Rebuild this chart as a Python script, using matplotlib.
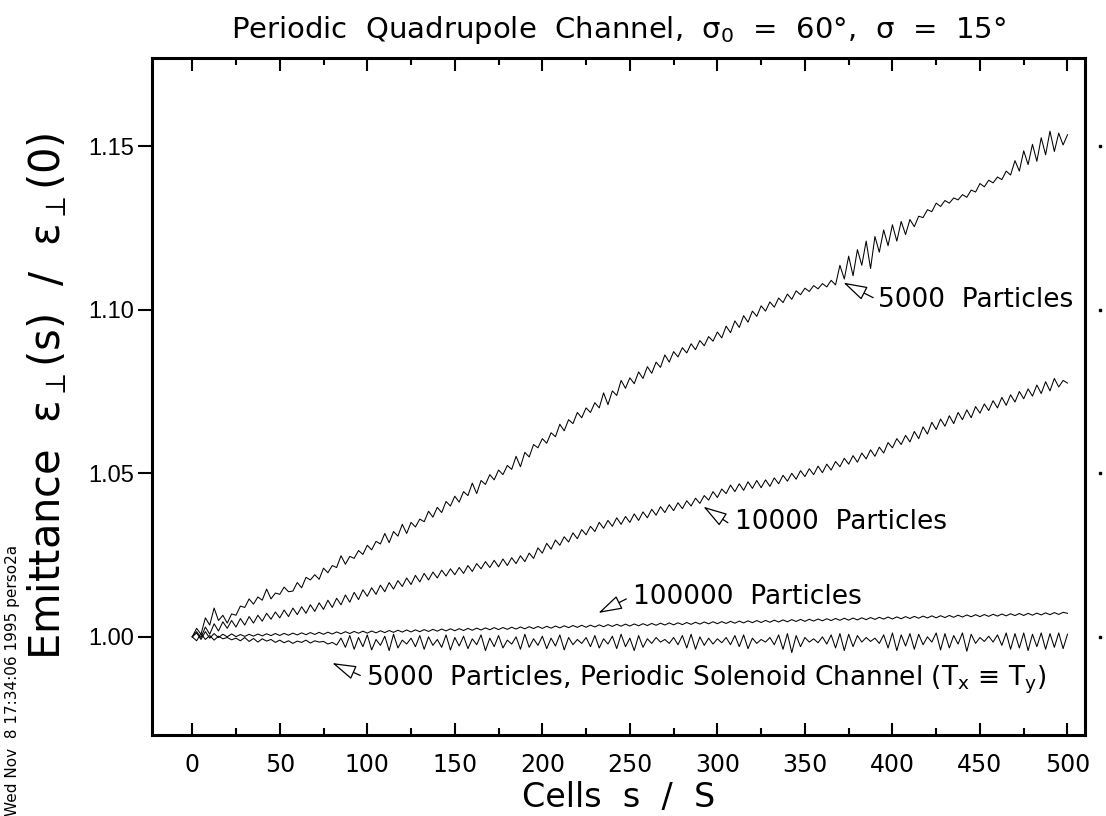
import numpy as np
import matplotlib
matplotlib.use("Agg")
import matplotlib.pyplot as plt
from matplotlib.ticker import MultipleLocator, FormatStrFormatter

# cells sampled every 2.5 cells, 0 .. 500
cells = np.linspace(0, 500, 201)

emit_5000 = [
    1.0000, 1.0026, 1.0008, 1.0058, 1.0036, 1.0088, 1.0050, 1.0066, 1.0042, 1.0070,
    1.0066, 1.0094, 1.0090, 1.0116, 1.0100, 1.0122, 1.0112, 1.0146, 1.0116, 1.0134,
    1.0130, 1.0152, 1.0138, 1.0140, 1.0166, 1.0150, 1.0182, 1.0174, 1.0190, 1.0176,
    1.0210, 1.0196, 1.0218, 1.0212, 1.0248, 1.0222, 1.0246, 1.0240, 1.0264, 1.0252,
    1.0280, 1.0266, 1.0292, 1.0284, 1.0316, 1.0288, 1.0322, 1.0308, 1.0344, 1.0316,
    1.0350, 1.0336, 1.0360, 1.0352, 1.0384, 1.0366, 1.0396, 1.0380, 1.0414, 1.0400,
    1.0430, 1.0412, 1.0444, 1.0432, 1.0470, 1.0438, 1.0478, 1.0466, 1.0496, 1.0480,
    1.0510, 1.0496, 1.0524, 1.0512, 1.0552, 1.0520, 1.0564, 1.0550, 1.0588, 1.0578,
    1.0606, 1.0592, 1.0624, 1.0612, 1.0650, 1.0630, 1.0664, 1.0652, 1.0686, 1.0670,
    1.0700, 1.0686, 1.0716, 1.0700, 1.0746, 1.0710, 1.0752, 1.0738, 1.0784, 1.0760,
    1.0792, 1.0774, 1.0810, 1.0790, 1.0826, 1.0806, 1.0840, 1.0824, 1.0862, 1.0840,
    1.0872, 1.0856, 1.0884, 1.0868, 1.0896, 1.0878, 1.0906, 1.0890, 1.0918, 1.0904,
    1.0932, 1.0914, 1.0950, 1.0930, 1.0966, 1.0946, 1.0982, 1.0962, 1.0996, 1.0980,
    1.1012, 1.0996, 1.1024, 1.1008, 1.1036, 1.1022, 1.1048, 1.1032, 1.1058, 1.1046,
    1.1066, 1.1056, 1.1074, 1.1064, 1.1080, 1.1070, 1.1090, 1.1076, 1.1136, 1.1094,
    1.1164, 1.1104, 1.1184, 1.1136, 1.1210, 1.1126, 1.1224, 1.1176, 1.1244, 1.1196,
    1.1260, 1.1210, 1.1270, 1.1230, 1.1276, 1.1254, 1.1286, 1.1282, 1.1306, 1.1300,
    1.1326, 1.1316, 1.1334, 1.1326, 1.1342, 1.1336, 1.1352, 1.1344, 1.1366, 1.1360,
    1.1386, 1.1376, 1.1396, 1.1388, 1.1406, 1.1398, 1.1424, 1.1412, 1.1456, 1.1424,
    1.1486, 1.1444, 1.1506, 1.1454, 1.1526, 1.1474, 1.1546, 1.1484, 1.1540, 1.1504,
    1.1535]

emit_10000 = [
    1.0000, 1.0016, 0.9998, 1.0030, 1.0008, 1.0040, 1.0018, 1.0046, 1.0026, 1.0050,
    1.0030, 1.0056, 1.0036, 1.0062, 1.0042, 1.0066, 1.0048, 1.0072, 1.0054, 1.0076,
    1.0058, 1.0082, 1.0062, 1.0088, 1.0068, 1.0092, 1.0072, 1.0098, 1.0078, 1.0104,
    1.0084, 1.0112, 1.0090, 1.0118, 1.0098, 1.0128, 1.0106, 1.0136, 1.0114, 1.0144,
    1.0124, 1.0150, 1.0130, 1.0158, 1.0138, 1.0166, 1.0146, 1.0172, 1.0154, 1.0180,
    1.0160, 1.0188, 1.0168, 1.0194, 1.0174, 1.0198, 1.0180, 1.0204, 1.0186, 1.0208,
    1.0190, 1.0212, 1.0194, 1.0218, 1.0200, 1.0224, 1.0208, 1.0230, 1.0212, 1.0234,
    1.0214, 1.0238, 1.0218, 1.0242, 1.0224, 1.0248, 1.0230, 1.0256, 1.0240, 1.0272,
    1.0256, 1.0286, 1.0268, 1.0296, 1.0280, 1.0306, 1.0290, 1.0318, 1.0300, 1.0328,
    1.0312, 1.0338, 1.0322, 1.0350, 1.0332, 1.0356, 1.0338, 1.0364, 1.0344, 1.0368,
    1.0350, 1.0376, 1.0356, 1.0382, 1.0364, 1.0390, 1.0372, 1.0398, 1.0380, 1.0404,
    1.0386, 1.0410, 1.0392, 1.0416, 1.0400, 1.0424, 1.0408, 1.0432, 1.0418, 1.0444,
    1.0426, 1.0452, 1.0438, 1.0464, 1.0444, 1.0468, 1.0448, 1.0474, 1.0454, 1.0478,
    1.0456, 1.0480, 1.0460, 1.0486, 1.0468, 1.0494, 1.0476, 1.0500, 1.0482, 1.0508,
    1.0490, 1.0514, 1.0496, 1.0522, 1.0502, 1.0528, 1.0510, 1.0536, 1.0520, 1.0546,
    1.0528, 1.0554, 1.0534, 1.0562, 1.0544, 1.0572, 1.0552, 1.0580, 1.0562, 1.0594,
    1.0578, 1.0606, 1.0588, 1.0616, 1.0596, 1.0628, 1.0606, 1.0642, 1.0620, 1.0656,
    1.0634, 1.0666, 1.0644, 1.0676, 1.0652, 1.0686, 1.0664, 1.0694, 1.0670, 1.0704,
    1.0684, 1.0712, 1.0692, 1.0722, 1.0700, 1.0732, 1.0708, 1.0740, 1.0718, 1.0750,
    1.0728, 1.0758, 1.0736, 1.0770, 1.0744, 1.0780, 1.0752, 1.0790, 1.0764, 1.0784,
    1.0776]

emit_100000 = [
    1.00000, 1.00120, 0.99920, 1.00160, 0.99960, 1.00100, 0.99980, 1.00080, 1.00000, 1.00090,
    1.00006, 1.00070, 1.00014, 1.00078, 1.00022, 1.00086, 1.00030, 1.00094, 1.00038, 1.00102,
    1.00042, 1.00106, 1.00050, 1.00114, 1.00058, 1.00122, 1.00066, 1.00130, 1.00074, 1.00138,
    1.00078, 1.00142, 1.00086, 1.00150, 1.00094, 1.00158, 1.00102, 1.00166, 1.00110, 1.00174,
    1.00114, 1.00178, 1.00122, 1.00186, 1.00130, 1.00194, 1.00138, 1.00202, 1.00146, 1.00210,
    1.00150, 1.00214, 1.00158, 1.00222, 1.00166, 1.00230, 1.00174, 1.00238, 1.00182, 1.00246,
    1.00186, 1.00250, 1.00194, 1.00258, 1.00202, 1.00266, 1.00210, 1.00274, 1.00218, 1.00282,
    1.00222, 1.00286, 1.00230, 1.00294, 1.00238, 1.00302, 1.00246, 1.00310, 1.00254, 1.00318,
    1.00258, 1.00322, 1.00266, 1.00330, 1.00274, 1.00338, 1.00282, 1.00346, 1.00290, 1.00354,
    1.00294, 1.00358, 1.00302, 1.00366, 1.00310, 1.00374, 1.00318, 1.00382, 1.00326, 1.00390,
    1.00330, 1.00394, 1.00338, 1.00402, 1.00346, 1.00410, 1.00354, 1.00418, 1.00362, 1.00426,
    1.00366, 1.00430, 1.00374, 1.00438, 1.00382, 1.00446, 1.00390, 1.00454, 1.00398, 1.00462,
    1.00402, 1.00466, 1.00410, 1.00474, 1.00418, 1.00482, 1.00426, 1.00490, 1.00434, 1.00498,
    1.00438, 1.00502, 1.00446, 1.00510, 1.00454, 1.00518, 1.00462, 1.00526, 1.00470, 1.00534,
    1.00474, 1.00538, 1.00482, 1.00546, 1.00490, 1.00554, 1.00498, 1.00562, 1.00506, 1.00570,
    1.00510, 1.00574, 1.00518, 1.00582, 1.00526, 1.00590, 1.00534, 1.00598, 1.00542, 1.00606,
    1.00546, 1.00610, 1.00554, 1.00618, 1.00562, 1.00626, 1.00570, 1.00634, 1.00578, 1.00642,
    1.00582, 1.00646, 1.00590, 1.00654, 1.00598, 1.00662, 1.00606, 1.00670, 1.00614, 1.00678,
    1.00618, 1.00682, 1.00626, 1.00690, 1.00634, 1.00698, 1.00642, 1.00706, 1.00650, 1.00714,
    1.00654, 1.00718, 1.00662, 1.00726, 1.00670, 1.00734, 1.00678, 1.00742, 1.00686, 1.00750,
    1.00720]

emit_solenoid = [
    1.0000, 0.9988, 1.0010, 0.9992, 1.0004, 0.9990, 1.0002, 0.9994, 0.9998, 0.9991,
    0.9996, 0.9988, 0.9998, 0.9986, 0.9995, 0.9984, 0.9994, 0.9987, 0.9992, 0.9983,
    0.9990, 0.9982, 0.9988, 0.9980, 0.9987, 0.9983, 0.9990, 0.9981, 0.9988, 0.9984,
    0.9986, 0.9978, 0.9983, 0.9975, 0.9996, 0.9968, 1.0004, 0.9962, 0.9998, 0.9970,
    1.0006, 0.9960, 0.9992, 0.9974, 1.0002, 0.9958, 1.0008, 0.9966, 0.9990, 0.9978,
    0.9996, 0.9970, 1.0004, 0.9962, 1.0000, 0.9974, 0.9992, 0.9968, 1.0006, 0.9960,
    0.9998, 0.9972, 1.0002, 0.9964, 0.9994, 0.9976, 1.0006, 0.9958, 0.9996, 0.9970,
    1.0004, 0.9966, 0.9990, 0.9978, 1.0000, 0.9962, 1.0008, 0.9968, 0.9994, 0.9974,
    1.0002, 0.9964, 0.9996, 0.9972, 1.0006, 0.9960, 0.9998, 0.9976, 0.9992, 0.9980,
    0.9998, 0.9970, 1.0004, 0.9966, 0.9994, 0.9978, 1.0002, 0.9964, 1.0008, 0.9970,
    0.9996, 0.9958, 1.0004, 0.9968, 0.9994, 0.9980, 0.9998, 0.9984, 0.9992, 0.9980,
    0.9998, 0.9976, 1.0004, 0.9966, 1.0008, 0.9962, 1.0000, 0.9974, 0.9996, 0.9978,
    0.9994, 0.9982, 0.9998, 0.9976, 1.0004, 0.9970, 1.0006, 0.9964, 0.9996, 0.9980,
    0.9992, 0.9984, 0.9998, 0.9976, 1.0006, 0.9962, 1.0010, 0.9952, 1.0004, 0.9970,
    0.9998, 0.9984, 0.9994, 0.9982, 1.0000, 0.9978, 1.0006, 0.9966, 1.0010, 0.9958,
    1.0008, 0.9970, 1.0004, 0.9984, 0.9998, 0.9986, 0.9996, 0.9980, 1.0006, 0.9966,
    1.0012, 0.9958, 1.0006, 0.9972, 1.0010, 0.9962, 1.0008, 0.9976, 1.0000, 0.9984,
    1.0012, 0.9960, 1.0010, 0.9966, 1.0004, 0.9978, 1.0012, 0.9956, 1.0008, 0.9980,
    0.9998, 0.9986, 1.0002, 0.9984, 1.0006, 0.9974, 1.0012, 0.9962, 1.0010, 0.9966,
    1.0012, 0.9958, 1.0008, 0.9970, 1.0012, 0.9962, 1.0010, 0.9968, 1.0012, 0.9964,
    1.0008]

# curve labels: text, text position (x, y), arrow tail (x, y), arrow tip (x, y)
labels = ["5000  Particles", "10000  Particles", "100000  Particles",
          "5000  Particles, Periodic Solenoid Channel (T$_\\mathrm{x}$ \u2261 T$_\\mathrm{y}$)"]
label_xy = [(392, 1.1031), (310, 1.0352), (252, 1.0122), (99, 0.9869)]
tail_xy = [(389, 1.1037), (306, 1.0349), (248, 1.0116), (96, 0.9882)]
tip_xy = [(372, 1.1083), (292, 1.0398), (232, 1.0073), (80, 0.9920)]

plt.rcParams['mathtext.fontset'] = 'dejavusans'
plt.rcParams['font.family'] = 'DejaVu Sans'

fig = plt.figure(figsize=(11.06, 8.16), dpi=100)
ax = fig.add_axes([0.1374, 0.0993, 0.9810 - 0.1374, 0.9290 - 0.0993])

for series in (emit_5000, emit_10000, emit_100000, emit_solenoid):
    ax.plot(cells, series, color='black', lw=0.75)

ax.set_xlim(-23, 510)
ax.set_ylim(0.970, 1.177)

ax.xaxis.set_major_locator(MultipleLocator(50))
ax.xaxis.set_minor_locator(MultipleLocator(25))
ax.yaxis.set_major_locator(MultipleLocator(0.05))
ax.yaxis.set_minor_locator(MultipleLocator(1.0))
ax.yaxis.set_major_formatter(FormatStrFormatter('%.2f'))

ax.tick_params(axis='x', which='major', direction='in', top=True, bottom=True,
               length=9, width=1.5, pad=13)
ax.tick_params(axis='x', which='minor', direction='in', top=True, bottom=True,
               length=5, width=1.5)
ax.tick_params(axis='y', which='major', direction='out', left=True, right=False,
               length=10, width=1.5, pad=3)
for lab in ax.get_xticklabels():
    lab.set_fontsize(17)
for lab in ax.get_yticklabels():
    lab.set_family('Liberation Sans')
    lab.set_fontsize(17)
for sp in ax.spines.values():
    sp.set_linewidth(2.2)

# small marks right of the frame at the y ticks
for yv in [1.00, 1.05, 1.10, 1.15]:
    ax.plot([1.016], [yv], marker='s', ms=1.8, color='black',
            transform=ax.get_yaxis_transform(), clip_on=False)

for txt, lxy, axy, txy in zip(labels, label_xy, tail_xy, tip_xy):
    ax.text(lxy[0], lxy[1], txt, fontsize=19, va='center', ha='left')
    ax.annotate('', xy=txy, xytext=axy,
                arrowprops=dict(arrowstyle='-|>,head_length=1.5,head_width=0.45',
                                mutation_scale=10, fc='white', ec='black', lw=0.9,
                                shrinkA=0, shrinkB=0))

ax.set_title("Periodic  Quadrupole  Channel,  \u03c3$_0$  =  60\u00b0,  \u03c3  =  15\u00b0",
             fontsize=21, pad=14)
ax.set_xlabel("Cells  s  /  S", fontsize=24)
ax.xaxis.set_label_coords(0.5, -0.068)
ax.set_ylabel("Emittance  \u03b5$_\\perp$(s)  /  \u03b5$_\\perp$(0)", fontsize=30)
ax.yaxis.set_label_coords(-0.089, 0.5)

fig.text(0.011, 0.0, "Wed Nov  8 17:34:06 1995 perso2a", rotation=90,
         fontsize=11, ha='center', va='bottom')

fig.savefig("out.png", dpi=100)
